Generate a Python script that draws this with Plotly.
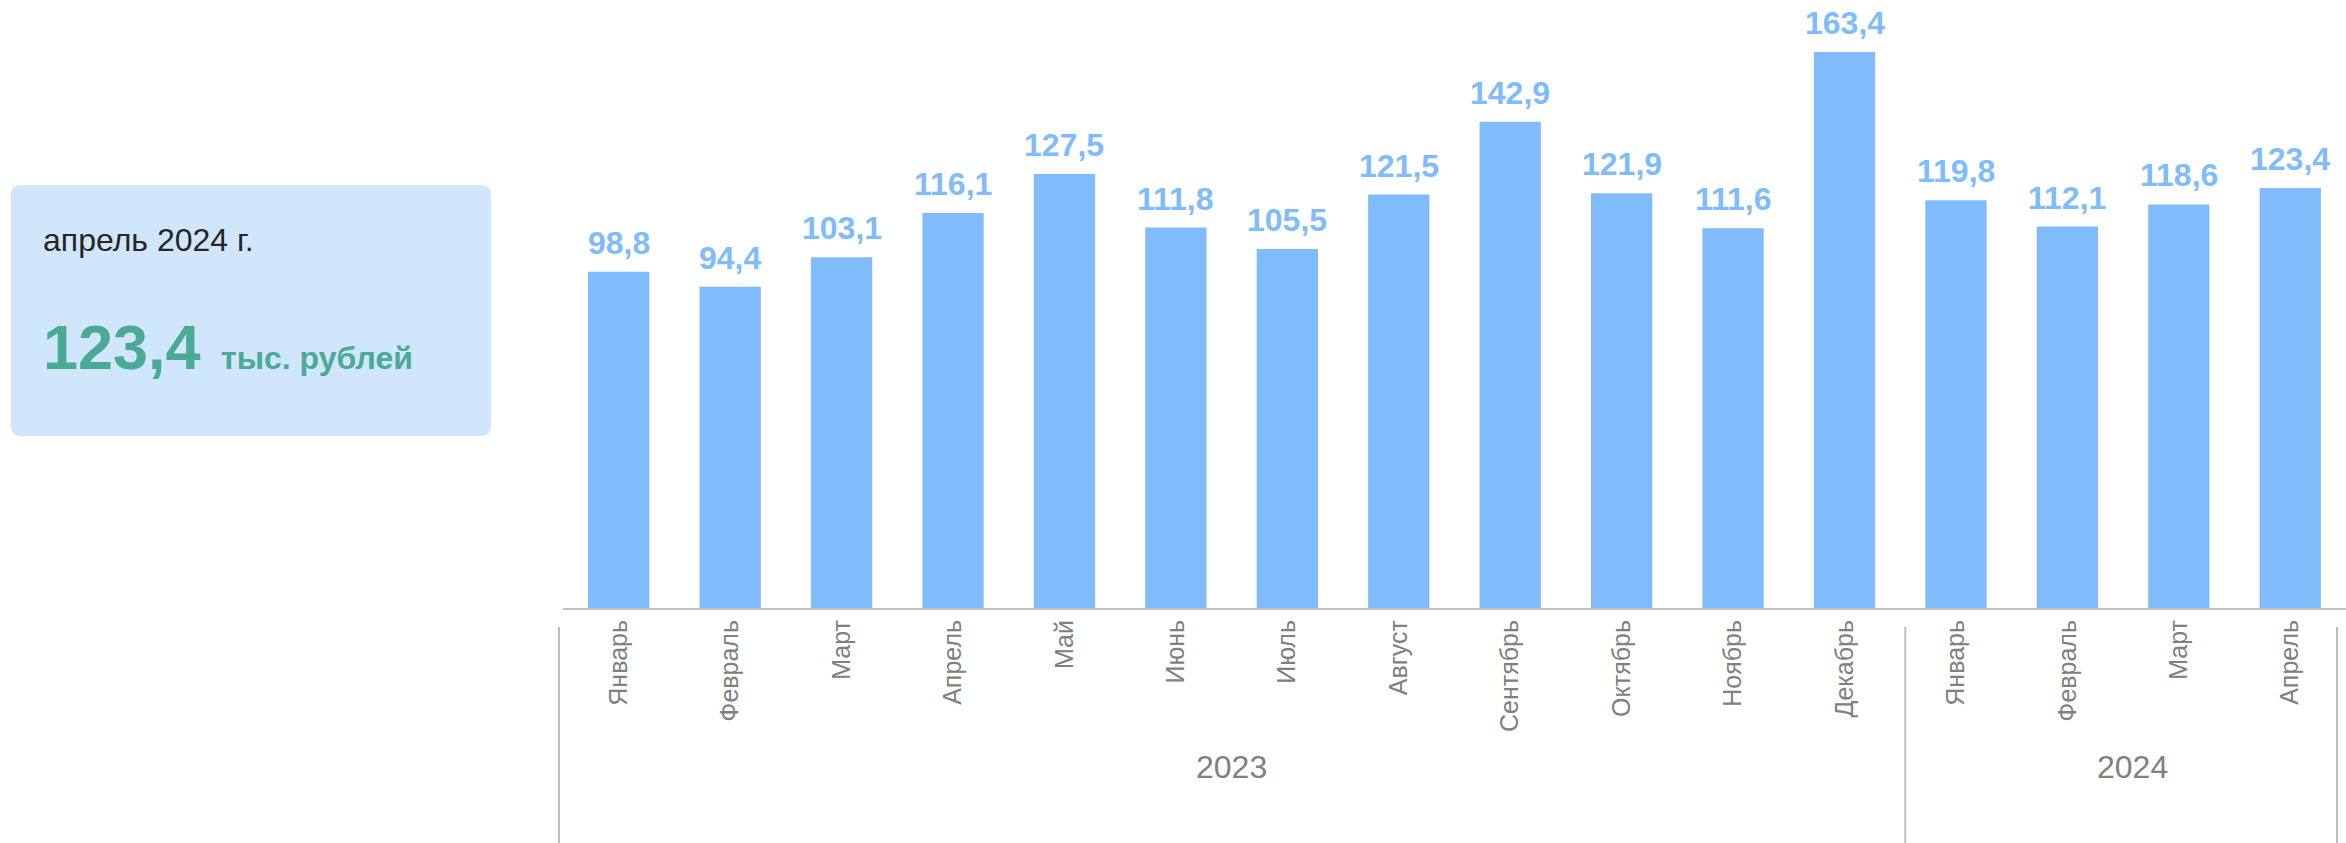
import plotly.graph_objects as go

# ---- data ----
months = ["Январь", "Февраль", "Март", "Апрель", "Май", "Июнь", "Июль", "Август",
          "Сентябрь", "Октябрь", "Ноябрь", "Декабрь",
          "Январь", "Февраль", "Март", "Апрель"]
years = ["2023"] * 12 + ["2024"] * 4
values = [98.8, 94.4, 103.1, 116.1, 127.5, 111.8, 105.5, 121.5,
          142.9, 121.9, 111.6, 163.4,
          119.8, 112.1, 118.6, 123.4]
card_period = "апрель 2024 г."
card_value = "123,4"
card_unit = "тыс. рублей"

# ---- layout constants ----
W, H = 2346, 843
L, R, T, B = 563, 0, 0, 235
PW, PH = W - L - R, H - T - B
FONT = "Arial, Liberation Sans, sans-serif"
BAR = "#80BBFB"
GRAY = "#808080"
LINE = "#BFBFBF"
GREEN = "#4AAA94"
N = len(values)

def X(px):
    return (px - L) / PW

def Y(py):
    return (T + PH - py) / PH

def cat_px(c):
    # pixel position of category coordinate c
    return L + (c + 0.5) / N * PW

idx = list(range(N))

fig = go.Figure(go.Bar(
    x=idx, y=values, marker_color=BAR, marker_line_width=0,
    width=0.55, hoverinfo="skip",
))

annotations = []
# value labels
for i, v in zip(idx, values):
    annotations.append(dict(
        x=i, y=v, xref="x", yref="y", text=f"{v:.1f}".replace(".", ","),
        showarrow=False, yanchor="bottom", xanchor="center", yshift=9,
        font=dict(family=FONT, size=32, color=BAR, weight="bold"),
    ))

# year group labels and separators
shapes = []
groups = []
for i, yv in enumerate(years):
    if not groups or groups[-1][0] != yv:
        groups.append([yv, i, i])
    else:
        groups[-1][2] = i

sep_y0, sep_y1 = Y(843), Y(627)
for gi, (yv, a, b) in enumerate(groups):
    annotations.append(dict(
        x=(a + b) / 2, y=Y(767), xref="x", yref="paper", text=yv,
        showarrow=False, xanchor="center", yanchor="middle",
        xshift=(9 if gi == len(groups) - 1 else 0),
        font=dict(family=FONT, size=32, color=GRAY),
    ))
edge_px = ([cat_px(groups[0][1] - 0.5) - 4]
           + [cat_px(g[2] + 0.5) + 5 for g in groups[:-1]]
           + [cat_px(groups[-1][2] + 0.5) - 9])
for e in edge_px:
    shapes.append(dict(type="line", xref="paper", yref="paper", x0=X(e), x1=X(e),
                       y0=sep_y0, y1=sep_y1, line=dict(color=LINE, width=2)))

# left card
cx0, cx1, cy0, cy1 = X(11), X(491), Y(436), Y(185)
rx, ry = 10 / PW, 10 / PH
path = (f"M {cx0+rx},{cy1} L {cx1-rx},{cy1} Q {cx1},{cy1} {cx1},{cy1-ry} "
        f"L {cx1},{cy0+ry} Q {cx1},{cy0} {cx1-rx},{cy0} "
        f"L {cx0+rx},{cy0} Q {cx0},{cy0} {cx0},{cy0+ry} "
        f"L {cx0},{cy1-ry} Q {cx0},{cy1} {cx0+rx},{cy1} Z")
shapes.append(dict(type="path", xref="paper", yref="paper", path=path,
                   fillcolor="#D0E6FD", line=dict(width=0), layer="below"))

annotations.append(dict(x=X(41), y=Y(240), xref="paper", yref="paper",
                        text=card_period, showarrow=False, xanchor="left", yanchor="middle",
                        font=dict(family=FONT, size=32, color="#262626")))
annotations.append(dict(x=X(41), y=Y(369 - 0.347 * 63), xref="paper", yref="paper",
                        text=card_value, showarrow=False, xanchor="left", yanchor="middle",
                        font=dict(family=FONT, size=63, color=GREEN, weight="bold")))
annotations.append(dict(x=X(219), y=Y(369 - 0.347 * 32), xref="paper", yref="paper",
                        text=card_unit, showarrow=False, xanchor="left", yanchor="middle",
                        font=dict(family=FONT, size=32, color=GREEN, weight="bold")))

fig.update_layout(
    width=W, height=H,
    margin=dict(l=L, r=R, t=T, b=B, pad=0),
    paper_bgcolor="white", plot_bgcolor="white",
    showlegend=False, bargap=0.45,
    annotations=annotations, shapes=shapes,
    xaxis=dict(
        tickmode="array", tickvals=idx, ticktext=months, tickangle=-90,
        range=[-0.5, N - 0.5],
        tickfont=dict(family=FONT, size=25, color=GRAY),
        showline=True, linecolor=LINE, linewidth=2,
        showgrid=False, zeroline=False, ticks="", fixedrange=True,
    ),
    yaxis=dict(
        range=[0, PH / 3.403], visible=False, showgrid=False, zeroline=False,
        fixedrange=True,
    ),
)

fig.write_html("out.html", config={"displayModeBar": False},
               post_script="document.body.style.margin='0';document.body.style.overflow='hidden';")
